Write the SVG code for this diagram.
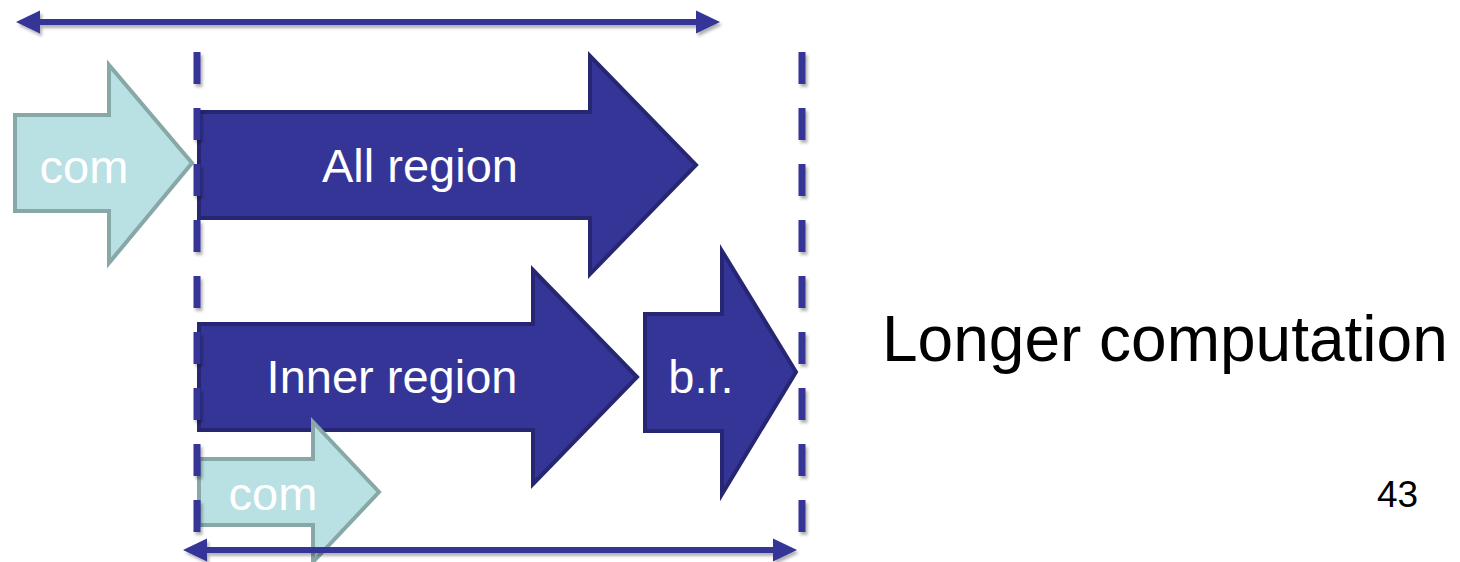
<svg xmlns="http://www.w3.org/2000/svg" width="1460" height="562" viewBox="0 0 1460 562">
  <style>
    .dark { fill: #353597; stroke: #262673; stroke-width: 4; stroke-linejoin: miter; }
    .light { fill: #B9E0E3; stroke: #88A8A8; stroke-width: 4; stroke-linejoin: miter; }
    .lbl { font-family: "Liberation Sans", Arial, sans-serif; font-size: 47px; fill: #FFFFFF; text-anchor: middle; }
    .dash { stroke: #353597; stroke-width: 7; stroke-dasharray: 32 24; fill: none; }
    .span { stroke: #353597; stroke-width: 6; fill: none; }
    .plain { font-family: "Liberation Sans", Arial, sans-serif; fill: #000000; }
  </style>
  <defs>
    <!-- user-space region so zero-width / zero-height lines keep their shadow -->
    <filter id="shadow" filterUnits="userSpaceOnUse" x="0" y="0" width="1460" height="562">
      <feDropShadow dx="2" dy="3" stdDeviation="1.5" flood-color="#000" flood-opacity="0.3"/>
    </filter>
    <marker id="head" markerUnits="userSpaceOnUse" markerWidth="26" markerHeight="26" refX="12" refY="12" orient="auto-start-reverse" viewBox="0 0 26 26">
      <path d="M0,0.5 L24,12 L0,23.5 Z" fill="#353597"/>
    </marker>
  </defs>

  <rect width="1460" height="562" fill="#FFFFFF"/>

  <!-- block arrows -->
  <g id="all-region">
    <polygon class="dark" points="199,112 590,112 590,56 696,165 590,274 590,218 199,218"/>
    <text class="lbl" x="420" y="182">All region</text>
  </g>
  <g id="inner-region">
    <polygon class="dark" points="199,324 533,324 533,270 637,377 533,484 533,430 199,430"/>
    <text class="lbl" x="392" y="393">Inner region</text>
  </g>
  <g id="boundary-region">
    <polygon class="dark" points="645,314 722,314 722,251 796,372 722,494 722,431 645,431"/>
    <text class="lbl" x="701" y="393">b.r.</text>
  </g>
  <g id="com-top">
    <polygon class="light" points="15,115 109,115 109,65 192,163 109,263 109,211 15,211"/>
    <text class="lbl" x="84" y="183">com</text>
  </g>
  <g id="com-bottom">
    <polygon class="light" points="199,459 313,459 313,422 379,492 313,562 313,525 199,525"/>
    <text class="lbl" x="273" y="510">com</text>
  </g>

  <!-- boundaries and spans -->
  <g id="connectors" filter="url(#shadow)">
    <line class="dash" x1="197" y1="52" x2="197" y2="532"/>
    <line class="dash" x1="802" y1="52" x2="802" y2="532"/>
    <line class="span" x1="28" y1="22" x2="708" y2="22" marker-start="url(#head)" marker-end="url(#head)"/>
    <line class="span" x1="195" y1="550" x2="785" y2="550" marker-start="url(#head)" marker-end="url(#head)"/>
  </g>

  <g id="caption">
    <text class="plain" x="882" y="361" font-size="64">Longer computation</text>
  </g>
  <g id="page-number">
    <text class="plain" x="1377" y="507" font-size="37">43</text>
  </g>
</svg>
